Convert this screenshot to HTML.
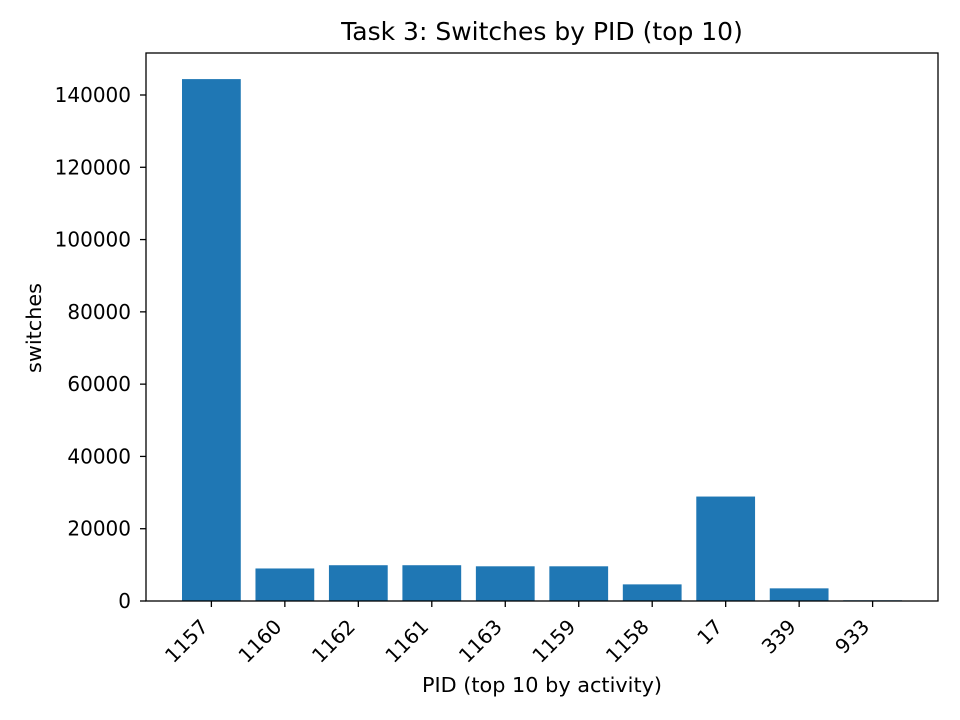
<!DOCTYPE html>
<html><head><meta charset="utf-8"><style>body{margin:0;background:#fff}svg{display:block;font-family:"DejaVu Sans","Liberation Sans",sans-serif}</style></head>
<body>
<svg id="chart" width="960" height="720">
<rect x="0" y="0" width="960" height="720" fill="#fff"/>
<text x="542" y="40" font-size="25" text-anchor="middle">Task 3: Switches by PID (top 10)</text>
<g id="bars"></g>
<g id="axes"></g>
<rect x="146" y="53" width="792" height="548" fill="none" stroke="#000" stroke-width="1.3"/>
<text x="542" y="692" font-size="20.8" text-anchor="middle">PID (top 10 by activity)</text>
<text transform="translate(41,328) rotate(-90)" font-size="20.8" text-anchor="middle">switches</text>
</svg>
<script>
const categories = ["1157","1160","1162","1161","1163","1159","1158","17","339","933"];
const values = [144400, 9000, 9900, 9900, 9600, 9600, 4600, 28900, 3500, 200];
const yTicks = [0,20000,40000,60000,80000,100000,120000,140000];
const ns="http://www.w3.org/2000/svg";
const L=146,R=938,T=53,B=601;
const ymax=Math.max(...values)*1.05;
const y=v=>B-(v/ymax)*(B-T);
const n=categories.length, lo=-0.4-0.05*(n-0.2), hi=n-1+0.4+0.05*(n-0.2);
const x=i=>L+(i-lo)/(hi-lo)*(R-L);
const bw=0.8*(R-L)/(hi-lo);
const bars=document.getElementById('bars'), axes=document.getElementById('axes');
values.forEach((v,i)=>{
  const r=document.createElementNS(ns,'rect');
  r.setAttribute('x',x(i)-bw/2);r.setAttribute('y',y(v));
  r.setAttribute('width',bw);r.setAttribute('height',B-y(v));
  r.setAttribute('fill','#1f77b4');
  
  
  bars.appendChild(r);
  const t=document.createElementNS(ns,'line');
  t.setAttribute('x1',x(i));t.setAttribute('x2',x(i));t.setAttribute('y1',B);t.setAttribute('y2',B+6);
  t.setAttribute('stroke','#000');t.setAttribute('stroke-width','1.3');
  
  
  axes.appendChild(t);
  const l=document.createElementNS(ns,'text');
  l.setAttribute('font-size','20');l.setAttribute('text-anchor','end');
  l.setAttribute('transform',`translate(${x(i)-2},${B+27}) rotate(-45)`);
  l.textContent=categories[i];
  
  
  axes.appendChild(l);
});
yTicks.forEach(v=>{
  const t=document.createElementNS(ns,'line');
  t.setAttribute('x1',L-6);t.setAttribute('x2',L);t.setAttribute('y1',y(v));t.setAttribute('y2',y(v));
  t.setAttribute('stroke','#000');t.setAttribute('stroke-width','1.3');
  
  
  axes.appendChild(t);
  const l=document.createElementNS(ns,'text');
  l.setAttribute('font-size','20');l.setAttribute('text-anchor','end');
  l.setAttribute('x',L-15);l.setAttribute('y',y(v)+7);
  l.textContent=v;
  
  
  axes.appendChild(l);
});
</script>
</body></html>
